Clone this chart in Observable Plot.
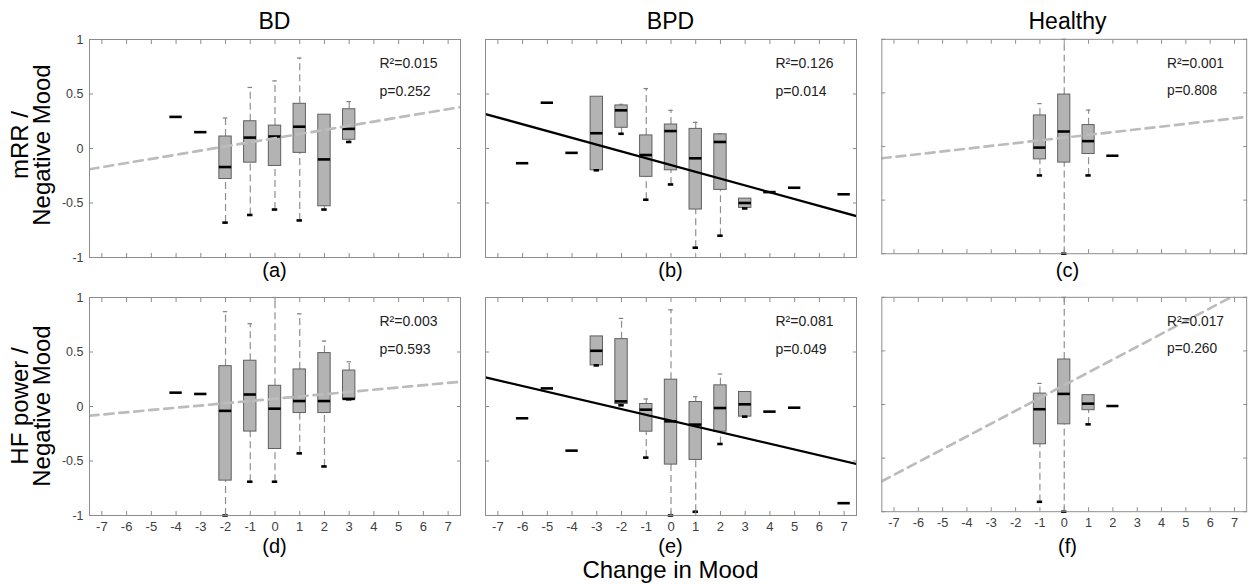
<!DOCTYPE html>
<html>
<head>
<meta charset="utf-8">
<script src="https://cdn.jsdelivr.net/npm/d3@7"></script>
<script src="https://cdn.jsdelivr.net/npm/@observablehq/plot@0.6"></script>
<style>
  body { margin: 0; background: #fff; font-family: "Liberation Sans", Arial, sans-serif; }
  #wrap { position: relative; width: 1256px; height: 585px; overflow: hidden; background: #fff; }
  .lbl { position: absolute; transform: translate(-50%, -50%); white-space: nowrap; color: #000; line-height: 1; }
  .ylab { position: absolute; transform: translate(-50%, -50%) rotate(-90deg); white-space: pre; text-align: center; font-size: 24px; line-height: 22px; color: #000; }
  .panel { position: absolute; }
  .panel svg { background: transparent; overflow: visible; }
</style>
</head>
<body>
<div id="wrap"></div>
<script>
// ---------- data ----------
const groups = ["BD", "BPD", "Healthy"];
const measures = ["mRR /\nNegative Mood", "HF power /\nNegative Mood"];
const panelLetters = ["(a)", "(b)", "(c)", "(d)", "(e)", "(f)"];
const xTickValues = [-7, -6, -5, -4, -3, -2, -1, 0, 1, 2, 3, 4, 5, 6, 7];
const yTickValues = [-1, -0.5, 0, 0.5, 1];
const xLabel = "Change in Mood";

// box rows: [change in mood, lower whisker, q1, median, q3, upper whisker]
const boxesA = [
  [-4, 0.29, 0.29, 0.29, 0.29, 0.29],
  [-3, 0.15, 0.15, 0.15, 0.15, 0.15],
  [-2, -0.68, -0.28, -0.17, 0.11, 0.28],
  [-1, -0.61, -0.13, 0.10, 0.25, 0.56],
  [0, -0.56, -0.16, 0.11, 0.21, 0.62],
  [1, -0.66, -0.04, 0.20, 0.41, 0.83],
  [2, -0.56, -0.53, -0.10, 0.31, 0.31],
  [3, 0.06, 0.08, 0.18, 0.36, 0.43]
];
const boxesB = [
  [-6, -0.135, -0.135, -0.135, -0.135, -0.135],
  [-5, 0.42, 0.42, 0.42, 0.42, 0.42],
  [-4, -0.04, -0.04, -0.04, -0.04, -0.04],
  [-3, -0.20, -0.20, 0.14, 0.475, 0.475],
  [-2, 0.135, 0.19, 0.35, 0.395, 0.405],
  [-1, -0.47, -0.26, -0.06, 0.12, 0.55],
  [0, -0.33, -0.20, 0.16, 0.22, 0.35],
  [1, -0.91, -0.56, -0.09, 0.18, 0.24],
  [2, -0.80, -0.38, 0.06, 0.13, 0.135],
  [3, -0.55, -0.545, -0.50, -0.46, -0.46],
  [4, -0.40, -0.40, -0.40, -0.40, -0.40],
  [5, -0.36, -0.36, -0.36, -0.36, -0.36],
  [7, -0.42, -0.42, -0.42, -0.42, -0.42]
];
const boxesC = [
  [-1, -0.27, -0.12, -0.01, 0.29, 0.40],
  [0, -1.0, -0.15, 0.14, 0.485, 1.0],
  [1, -0.27, -0.07, 0.05, 0.20, 0.34],
  [2, -0.086, -0.086, -0.086, -0.086, -0.086]
];
const boxesD = [
  [-4, 0.127, 0.127, 0.127, 0.127, 0.127],
  [-3, 0.115, 0.115, 0.115, 0.115, 0.115],
  [-2, -1.0, -0.68, -0.04, 0.37, 0.87],
  [-1, -0.69, -0.23, 0.11, 0.42, 0.76],
  [0, -0.69, -0.39, -0.02, 0.19, 1.0],
  [1, -0.43, -0.06, 0.05, 0.34, 0.85],
  [2, -0.55, -0.06, 0.05, 0.49, 0.60],
  [3, 0.066, 0.066, 0.07, 0.33, 0.41]
];
const boxesE = [
  [-6, -0.108, -0.108, -0.108, -0.108, -0.108],
  [-5, 0.166, 0.166, 0.166, 0.166, 0.166],
  [-4, -0.405, -0.405, -0.405, -0.405, -0.405],
  [-3, 0.377, 0.377, 0.511, 0.643, 0.643],
  [-2, 0.011, 0.023, 0.047, 0.618, 0.808],
  [-1, -0.469, -0.231, -0.029, 0.023, 0.069],
  [0, -1.0, -0.533, -0.136, 0.246, 0.887],
  [1, -0.966, -0.49, -0.166, 0.041, 0.09],
  [2, -0.344, -0.231, -0.014, 0.194, 0.298],
  [3, -0.093, -0.093, 0.02, 0.133, 0.133],
  [4, -0.047, -0.047, -0.047, -0.047, -0.047],
  [5, -0.011, -0.011, -0.011, -0.011, -0.011],
  [7, -0.887, -0.887, -0.887, -0.887, -0.887]
];
const boxesF = [
  [-1, -0.908, -0.371, -0.044, 0.102, 0.197],
  [0, -1.0, -0.185, 0.099, 0.42, 1.0],
  [1, -0.185, -0.053, 0.008, 0.087, 0.087],
  [2, -0.014, -0.014, -0.014, -0.014, -0.014]
];

// regression line: value at x = -7.5 and at x = 7.5 (frame edges)
const fitX = [-7.5, 7.5];
const fitA = [-0.19, 0.38];
const fitB = [0.316, -0.62];
const fitC = [-0.11, 0.276];
const fitD = [-0.084, 0.227];
const fitE = [0.267, -0.527];
const fitF = [-0.716, 1.078];

const r2Values = ["0.015", "0.126", "0.001", "0.003", "0.081", "0.017"];
const pValues = ["0.252", "0.014", "0.808", "0.593", "0.049", "0.260"];
const significant = [false, true, false, false, true, false];

const allBoxes = [boxesA, boxesB, boxesC, boxesD, boxesE, boxesF];
const allFits = [fitA, fitB, fitC, fitD, fitE, fitF];

// ---------- layout ----------
const FONT = '"Liberation Sans", Arial, sans-serif';
const frameLefts = [89, 485, 882];
const frameTops = [39, 297];
const W = 371, H = 218;
const ML = 40, MR = 10, MT = 10, MB = 34;
const wrap = document.getElementById("wrap");

function addLabel(text, x, y, size, cls = "lbl") {
  const d = document.createElement("div");
  d.className = cls;
  d.textContent = text;
  d.style.left = x + "px";
  d.style.top = y + "px";
  if (size) d.style.fontSize = size + "px";
  wrap.appendChild(d);
  return d;
}

for (let r = 0; r < 2; r++) {
  for (let c = 0; c < 3; c++) {
    const k = r * 3 + c;
    const rows = allBoxes[k].map(([x, lo, q1, med, q3, hi]) => ({x, lo, q1, med, q3, hi}));
    const boxes = rows.filter(d => d.q3 > d.q1);
    const upper = rows.filter(d => d.hi > d.q3);
    const lower = rows.filter(d => d.lo < d.q1 || (d.q3 > d.q1 && d.lo <= d.q1));
    const fitRows = fitX.map((x, i) => ({x, y: allFits[k][i]}));
    const solid = significant[k];
    const bottomRow = r === 1, leftCol = c === 0;

    const marks = [
      Plot.ruleX(rows.filter(d => d.hi > d.q3), {x: "x", y1: "q3", y2: "hi", stroke: "#8f8f8f", strokeWidth: 1.2, strokeDasharray: "7,4"}),
      Plot.ruleX(rows.filter(d => d.lo < d.q1), {x: "x", y1: "lo", y2: "q1", stroke: "#8f8f8f", strokeWidth: 1.2, strokeDasharray: "7,4"}),
      Plot.rect(boxes, {x1: d => d.x - 0.25, x2: d => d.x + 0.25, y1: "q1", y2: "q3", fill: "#b3b3b3", stroke: "#606060", strokeWidth: 1}),
      Plot.ruleY(upper, {y: "hi", x1: d => d.x - 0.09, x2: d => d.x + 0.09, stroke: "#808080", strokeWidth: 1.2}),
      Plot.ruleY(lower, {y: "lo", x1: d => d.x - 0.11, x2: d => d.x + 0.11, stroke: "#000", strokeWidth: 2.6}),
      Plot.ruleY(rows, {y: "med", x1: d => d.x - 0.25, x2: d => d.x + 0.25, stroke: "#000", strokeWidth: 2.6}),
      Plot.line(fitRows, {x: "x", y: "y", stroke: solid ? "#000" : "#bcbcbc", strokeWidth: solid ? 2.3 : 2.7, strokeDasharray: solid ? null : "9,6", clip: true}),
      Plot.frame({stroke: "#8c8c8c", strokeWidth: 1}),
      Plot.axisX({anchor: "bottom", ticks: xTickValues, tickSize: -4, tickFormat: () => "", stroke: "#8c8c8c", label: null}),
      Plot.axisX({anchor: "top", ticks: xTickValues, tickSize: -4, tickFormat: () => "", stroke: "#8c8c8c", label: null}),
      Plot.axisY({anchor: "left", ticks: yTickValues, tickSize: -4, tickFormat: () => "", stroke: "#8c8c8c", label: null}),
      Plot.axisY({anchor: "right", ticks: yTickValues, tickSize: -4, tickFormat: () => "", stroke: "#8c8c8c", label: null}),
      Plot.text(["R²=" + r2Values[k]], {frameAnchor: "top-right", dx: -81, dy: 19, textAnchor: "start", fontSize: 14, fill: "#222", text: d => d}),
      Plot.text(["p=" + pValues[k]], {frameAnchor: "top-right", dx: -81, dy: 47, textAnchor: "start", fontSize: 14, fill: "#222", text: d => d})
    ];
    if (bottomRow) {
      marks.push(Plot.axisX({anchor: "bottom", ticks: xTickValues, tickSize: 0, tickPadding: 6, tickFormat: d => String(d), fill: "#404040", fontSize: 13, label: null}));
    }
    if (leftCol) {
      marks.push(Plot.axisY({anchor: "left", ticks: yTickValues, tickSize: 0, tickPadding: 6, tickFormat: d => String(d), fill: "#404040", fontSize: 12.5, label: null}));
    }

    const svg = Plot.plot({
      width: W + ML + MR,
      height: H + MT + MB,
      marginLeft: ML, marginRight: MR, marginTop: MT, marginBottom: MB,
      x: {domain: [-7.5, 7.5]},
      y: {domain: [-1, 1]},
      style: {background: "transparent", fontFamily: FONT, overflow: "visible"},
      marks
    });
    const holder = document.createElement("div");
    holder.className = "panel";
    holder.style.left = (frameLefts[c] - ML) + "px";
    holder.style.top = (frameTops[r] - MT) + "px";
    holder.appendChild(svg);
    wrap.appendChild(holder);

    const cx = frameLefts[c] + W / 2;
    addLabel(panelLetters[k], cx, bottomRow ? 546 : 270, 20);
    if (r === 0) addLabel(groups[c], cx, 21, 23);
  }
}
addLabel(measures[0], 31, 145, null, "ylab");
addLabel(measures[1], 31, 406, null, "ylab");
addLabel(xLabel, frameLefts[1] + W / 2, 570, 24);
</script>
</body>
</html>
